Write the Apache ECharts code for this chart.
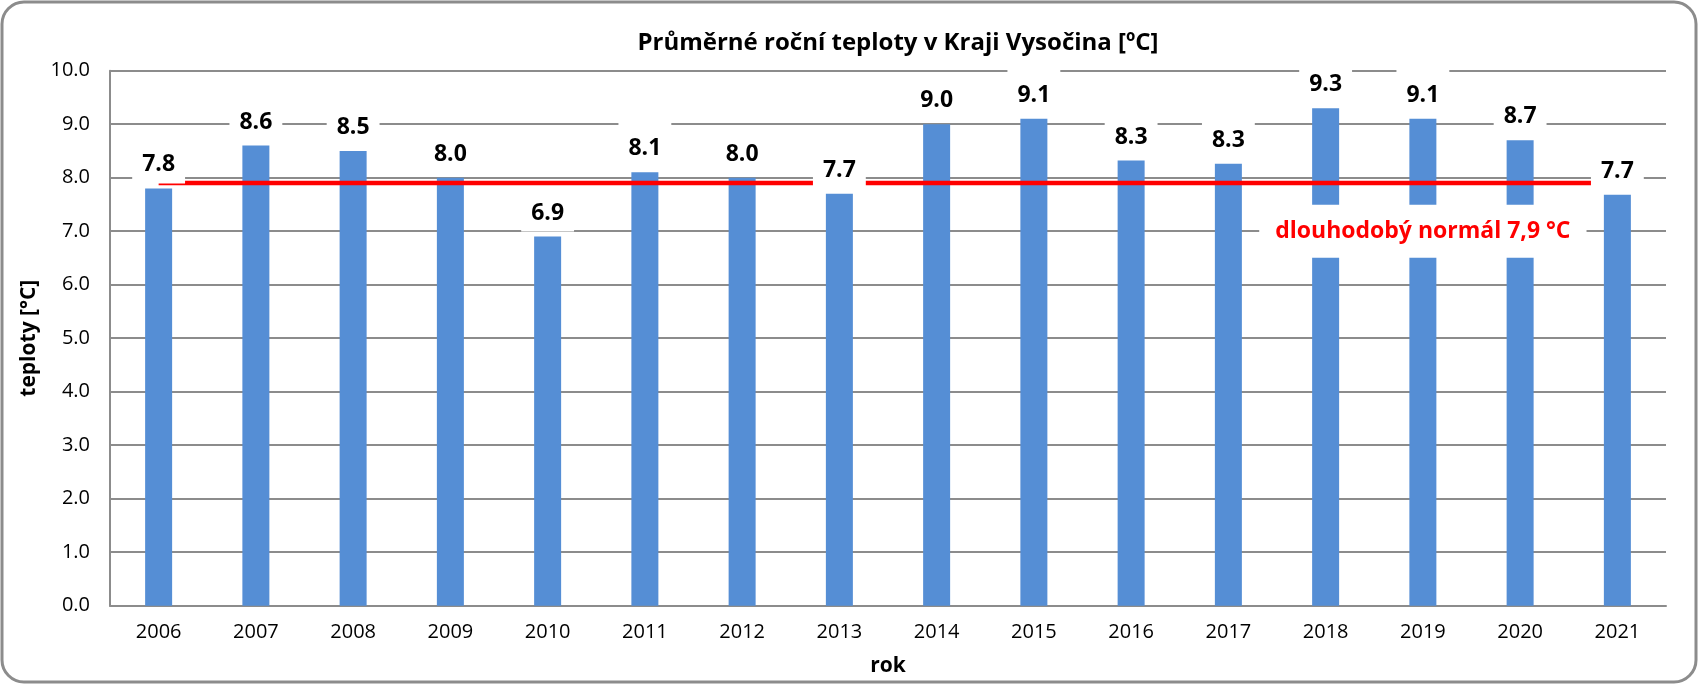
<!DOCTYPE html>
<html>
<head>
<meta charset="utf-8">
<script src="https://cdn.jsdelivr.net/npm/echarts@6/dist/echarts.min.js"></script>
<style>
html,body{margin:0;padding:0;background:#fff;}
#c{width:1699px;height:685px;}
</style>
</head>
<body>
<div id="c"></div>
<script>
const years = ['2006','2007','2008','2009','2010','2011','2012','2013','2014','2015','2016','2017','2018','2019','2020','2021'];
const temps = [7.8, 8.6, 8.5, 8.0, 6.9, 8.1, 8.0, 7.7, 9.0, 9.1, 8.32, 8.26, 9.3, 9.1, 8.7, 7.68];
const normal = [7.9, 7.9, 7.9, 7.9, 7.9, 7.9, 7.9, 7.9, 7.9, 7.9, 7.9, 7.9, 7.9, 7.9, 7.9, 7.9];
const normalNote = [['2019', 7.0]];
const titleText = 'Průměrné roční teploty v Kraji Vysočina [ºC]';
const yName = 'teploty [°C]';
const xName = 'rok';
const noteText = 'dlouhodobý normál 7,9 °C';

const FONT = "'Open Sans', 'Noto Sans', sans-serif";
const GRAY = '#8c8c8c';

const chart = echarts.init(document.getElementById('c'), null, {renderer: 'canvas'});
chart.setOption({
  backgroundColor: '#ffffff',
  animation: false,
  textStyle: {fontFamily: FONT},
  title: {
    text: titleText,
    left: 893,
    textAlign: 'center',
    top: 26,
    textStyle: {fontFamily: FONT, fontSize: 24, fontWeight: 'bold', color: '#000'}
  },
  graphic: [{
    type: 'rect',
    shape: {x: 2, y: 2, width: 1694, height: 680, r: 22},
    style: {fill: null, stroke: GRAY, lineWidth: 3},
    z: 100
  }],
  grid: {left: 110, right: 33, top: 70.7, bottom: 79.3, outerBoundsMode: 'none'},
  xAxis: {
    type: 'category',
    data: years,
    name: xName,
    nameLocation: 'middle',
    nameGap: 50,
    nameTextStyle: {fontFamily: FONT, fontSize: 21, fontWeight: 'bold', color: '#000'},
    axisLine: {show: true, lineStyle: {color: GRAY, width: 2}},
    axisTick: {show: false},
    axisLabel: {fontFamily: FONT, fontSize: 20, color: '#000', margin: 17}
  },
  yAxis: {
    type: 'value',
    min: 0, max: 10, interval: 1,
    name: yName,
    nameLocation: 'middle',
    nameGap: 63,
    nameTextStyle: {fontFamily: FONT, fontSize: 21, fontWeight: 'bold', color: '#000'},
    axisLine: {show: true, lineStyle: {color: GRAY, width: 2}},
    axisTick: {show: false},
    splitLine: {show: true, lineStyle: {color: GRAY, width: 2}},
    axisLabel: {fontFamily: FONT, fontSize: 20, color: '#000', margin: 20,
      formatter: v => v.toFixed(1)}
  },
  series: [
    {
      type: 'bar',
      data: temps,
      barWidth: 27,
      z: 2,
      itemStyle: {color: '#558ED5'}
    },
    {
      type: 'line',
      data: normal,
      z: 3,
      symbol: 'none',
      lineStyle: {color: '#ff0000', width: 4.5},
      silent: true
    },
    {
      type: 'bar',
      data: temps,
      barWidth: 27,
      barGap: '-100%',
      z: 4,
      itemStyle: {color: 'rgba(0,0,0,0)'},
      label: {
        show: true,
        position: 'top',
        distance: 5,
        formatter: p => p.value.toFixed(1),
        fontFamily: FONT, fontSize: 23, fontWeight: 'bold', color: '#000',
        backgroundColor: '#ffffff',
        padding: [15, 10, 7, 10]
      }
    },
    {
      type: 'scatter',
      data: normalNote,
      z: 5,
      symbolSize: 0,
      itemStyle: {opacity: 1},
      label: {
        show: true,
        position: 'inside',
        formatter: () => noteText,
        fontFamily: FONT, fontSize: 23, fontWeight: 'bold', color: '#ff0000',
        backgroundColor: '#ffffff',
        opacity: 1,
        padding: [15, 16, 15, 16]
      }
    }
  ]
});
</script>
</body>
</html>
